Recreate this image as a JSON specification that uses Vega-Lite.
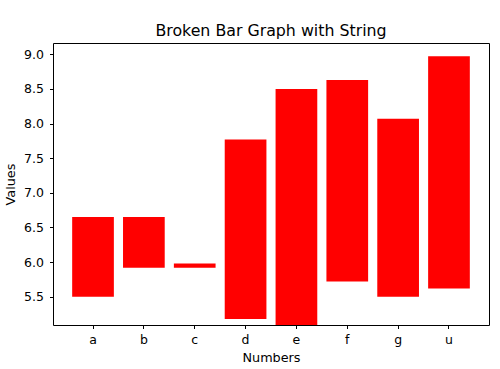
{
  "$schema": "https://vega.github.io/schema/vega-lite/v6.json",
  "autosize": {"type": "none"},
  "width": 436,
  "height": 282,
  "padding": {"left": 53, "top": 43, "right": 11, "bottom": 44},
  "background": "white",
  "title": {"text": "Broken Bar Graph with String", "font": "DejaVu Sans", "fontSize": 15.8, "fontWeight": "normal", "color": "black", "offset": -12, "baseline": "bottom"},
  "config": {
    "view": {"stroke": "black", "strokeWidth": 1},
    "axis": {"labelFont": "DejaVu Sans", "titleFont": "DejaVu Sans", "labelFontSize": 12.5, "titleFontSize": 12.8, "titleFontWeight": "normal", "labelColor": "black", "titleColor": "black", "tickColor": "black", "domain": false, "grid": false, "tickSize": 3.5}
  },
  "data": {"values": [
    {"label": "a", "low": 5.5, "high": 6.65},
    {"label": "b", "low": 5.92, "high": 6.65},
    {"label": "c", "low": 5.92, "high": 5.98},
    {"label": "d", "low": 5.18, "high": 7.77},
    {"label": "e", "low": 5.0, "high": 8.5},
    {"label": "f", "low": 5.72, "high": 8.63},
    {"label": "g", "low": 5.5, "high": 8.07},
    {"label": "u", "low": 5.62, "high": 8.97}
  ]},
  "mark": {"type": "bar", "color": "#ff0000", "clip": true},
  "encoding": {
    "x": {"field": "label", "type": "nominal", "sort": null, "title": "Numbers",
      "scale": {"paddingInner": 0.18, "paddingOuter": 0.377},
      "axis": {"labelAngle": 0, "labelPadding": 5, "titlePadding": 5}},
    "y": {"field": "low", "type": "quantitative", "title": "Values",
      "scale": {"domain": [5.092, 9.163], "zero": false, "nice": false},
      "axis": {"values": [5.5, 6.0, 6.5, 7.0, 7.5, 8.0, 8.5, 9.0], "format": ".1f", "labelPadding": 6, "titlePadding": 6}},
    "y2": {"field": "high"}
  }
}
